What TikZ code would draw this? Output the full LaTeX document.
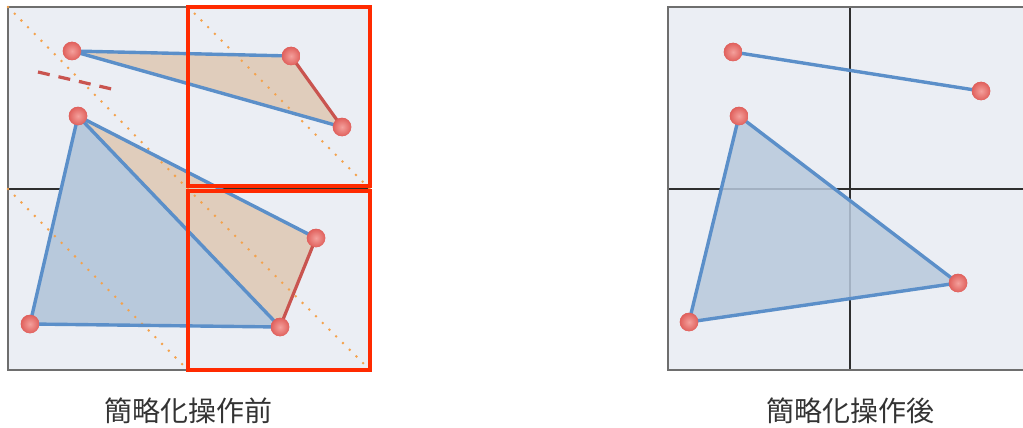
\documentclass[tikz,border=0pt]{standalone}
\usepackage{fontspec}
\newfontfamily\cjk{Noto Sans CJK JP}
\definecolor{panelbg}{HTML}{EBEEF4}
\definecolor{bordc}{HTML}{6E6E6E}
\definecolor{gridc}{HTML}{2E2E2E}
\definecolor{bluec}{HTML}{5B8FC9}
\definecolor{bluefill}{HTML}{B8C9DC}
\definecolor{tanfill}{HTML}{E0CDBC}
\definecolor{rede}{HTML}{C9544F}
\definecolor{dotc}{HTML}{F4A24C}
\definecolor{boxred}{HTML}{FF2A00}
\definecolor{vtxin}{HTML}{F4A09C}
\definecolor{vtxout}{HTML}{E0605C}
\definecolor{labelc}{HTML}{333333}
\begin{document}
\begin{tikzpicture}[x=1pt,y=-1pt,
  panel/.style={fill=panelbg},
  borderln/.style={draw=bordc,line width=2.2pt},
  gridln/.style={draw=gridc,line width=1.1pt},
  bedge/.style={draw=bluec,line width=3.4pt,line cap=round,line join=round},
  redge/.style={draw=rede,line width=3.2pt,line cap=round},
  vtx/.style={circle,minimum size=18.5pt,inner sep=0pt,inner color=vtxin,outer color=vtxout},
  diag/.style={draw=dotc,line width=2.8pt,line cap=round,dash pattern=on 0pt off 9.5pt},
  dashedred/.style={draw=rede,line width=3.2pt,dash pattern=on 12pt off 9pt},
  redbox/.style={draw=boxred,line width=3.8pt},
  lbl/.style={font=\cjk\fontsize{28}{30}\selectfont,text=labelc,inner sep=0pt}
]
\useasboundingbox (0,0) rectangle (1023,428);

% ---------- left panel ----------
\fill[panel] (8,7) rectangle (370,370);
\draw[gridln] (8,189) -- (370,189);
\draw[gridln] (188,7) -- (188,370);
\draw[borderln] (188,7) -- (8,7) -- (8,370) -- (188,370);

\coordinate (A1) at (72,51);
\coordinate (A2) at (291,56);
\coordinate (A3) at (342,127);
\coordinate (B1) at (78,116);
\coordinate (B2) at (316,238);
\coordinate (B3) at (280,327);
\coordinate (B4) at (30,324);

\fill[tanfill] (A1) -- (A2) -- (A3) -- cycle;
\fill[tanfill] (B1) -- (B2) -- (B3) -- cycle;
\fill[bluefill] (B1) -- (B3) -- (B4) -- cycle;

\coordinate (c00) at (8,7);
\coordinate (c10) at (188,7);
\coordinate (c01) at (8,189);
\coordinate (c11) at (188,189);
\coordinate (c21) at (370,189);
\coordinate (c12) at (188,370);
\coordinate (c22) at (370,370);
\draw[diag] (c00) -- (c11);
\draw[diag] (c10) -- (c21);
\draw[diag] (c01) -- (c12);
\draw[diag] (c11) -- (c22);

\coordinate (D1s) at (38,72);
\coordinate (D1e) at (116,90);
\draw[dashedred] (D1s) -- (D1e);

\node[vtx] (a1) at (A1) {};
\node[vtx] (a2) at (A2) {};
\node[vtx] (a3) at (A3) {};
\node[vtx] (b1) at (B1) {};
\node[vtx] (b2) at (B2) {};
\node[vtx] (b3) at (B3) {};
\node[vtx] (b4) at (B4) {};

\draw[bedge] (a1.center) -- (a2.center);
\draw[redge] (a2.center) -- (a3.center);
\draw[bedge] (a3.center) -- (a1.center);
\draw[bedge] (b1.center) -- (b2.center);
\draw[redge] (b2.center) -- (b3.center);
\draw[bedge] (b3.center) -- (b1.center);
\draw[bedge] (b1.center) -- (b4.center);
\draw[bedge] (b4.center) -- (b3.center);

\foreach \n in {A1,A2,A3,B1,B2,B3,B4} {\node[vtx] at (\n) {};}

\draw[redbox] (188,7) rectangle (370,186);
\draw[redbox] (188,191) rectangle (370,370);

% ---------- right panel ----------
\fill[panel] (668,7) rectangle (1025,370);
\draw[gridln] (850,7) -- (850,370);
\draw[gridln] (668,189) -- (1025,189);
\draw[borderln] (1025,7) -- (668,7) -- (668,370) -- (1025,370);

\coordinate (C1) at (733,52);
\coordinate (C2) at (981,91);
\coordinate (E1) at (739,116);
\coordinate (E2) at (958,283);
\coordinate (E3) at (689,322);

\fill[bluefill,opacity=0.85] (E1) -- (E2) -- (E3) -- cycle;
\node[vtx] (c1) at (C1) {};
\node[vtx] (c2) at (C2) {};
\node[vtx] (e1) at (E1) {};
\node[vtx] (e2) at (E2) {};
\node[vtx] (e3) at (E3) {};
\draw[bedge] (c1.center) -- (c2.center);
\draw[bedge] (e1.center) -- (e2.center) -- (e3.center) -- cycle;
\foreach \n in {C1,C2,E1,E2,E3} {\node[vtx] at (\n) {};}

% ---------- labels ----------
\node[lbl] (lblL) at (188,411) {簡略化操作前};
\node[lbl] (lblR) at (850,411) {簡略化操作後};
\end{tikzpicture}
\end{document}
